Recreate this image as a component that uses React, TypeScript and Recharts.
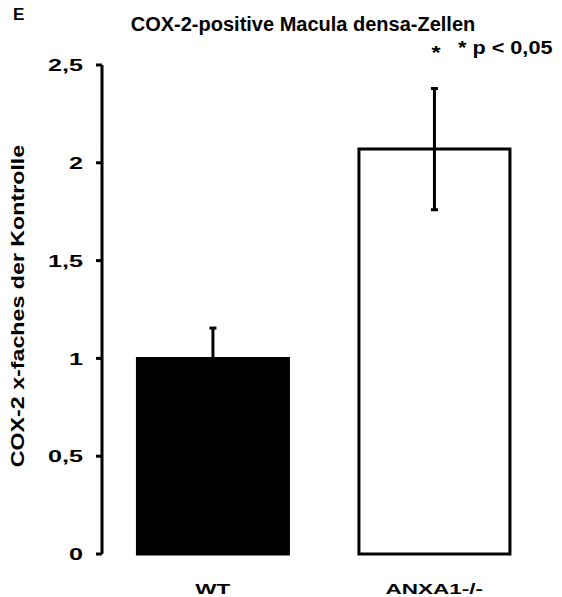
import React from 'react';
import { BarChart, Bar, XAxis, YAxis, ErrorBar, Cell } from 'recharts';

const categories = ['WT', 'ANXA1-/-'];
const values = [1.0, 2.07];
const errors = [0.155, 0.31];
const fills = ['#000000', '#ffffff'];
const yTicks = [0, 0.5, 1, 1.5, 2, 2.5];
const boundaryTicks = [0, 1, 2];
const title = 'COX-2-positive Macula densa-Zellen';
const yLabel = 'COX-2 x-faches der Kontrolle';
const panelLetter = 'E';
const sigMark = '*';
const sigLegend = '* p < 0,05';

const data = categories.map((c, i) => ({ name: c, value: values[i], err: errors[i], pos: i + 0.5 }));

const FONT = '"Liberation Sans", Arial, Helvetica, sans-serif';

const YTick = (props: any) => {
  const { x, y, payload } = props;
  return (
    <text
      transform={`translate(${x - 13},${y}) scale(1.48,1)`}
      textAnchor="end"
      dy="0.36em"
      fontSize={17}
      fontWeight="bold"
      fontFamily={FONT}
      fill="#000"
    >
      {String(payload.value).replace('.', ',')}
    </text>
  );
};

const XTick = (props: any) => {
  const { x, y, payload } = props;
  return (
    <text
      transform={`translate(${x},${y + 40}) scale(1.5,1)`}
      textAnchor="middle"
      fontSize={15}
      fontWeight="bold"
      fontFamily={FONT}
      fill="#000"
    >
      {payload.value}
    </text>
  );
};

export default function App() {
  return (
    <div style={{ position: 'absolute', left: 0, top: 0, width: 562, height: 597, background: '#fff' }}>
      <BarChart
        width={562}
        height={597}
        data={data}
        margin={{ top: 65, right: 17, bottom: 0, left: 0 }}
        barCategoryGap="16%"
      >
        <XAxis
          xAxisId="line"
          type="number"
          dataKey="pos"
          domain={[0, 2]}
          ticks={boundaryTicks}
          height={0}
          axisLine={{ stroke: '#000', strokeWidth: 3 }}
          tickLine={{ stroke: '#000', strokeWidth: 3 }}
          tickSize={7}
          tickFormatter={() => ''}
        />
        <XAxis
          xAxisId="cat"
          dataKey="name"
          height={43}
          axisLine={false}
          tickLine={false}
          tickSize={0}
          tickMargin={0}
          tick={<XTick />}
          interval={0}
        />
        <YAxis
          width={102}
          domain={[0, 2.5]}
          ticks={yTicks}
          interval={0}
          axisLine={{ stroke: '#000', strokeWidth: 3 }}
          tickLine={{ stroke: '#000', strokeWidth: 3 }}
          tickSize={6}
          tickMargin={0}
          tick={<YTick />}
        />
        <Bar xAxisId="cat" dataKey="value" isAnimationActive={false} stroke="#000" strokeWidth={3}>
          {data.map((d, i) => (
            <Cell key={d.name} fill={fills[i]} />
          ))}
          <ErrorBar dataKey="err" width={3.5} stroke="#000" strokeWidth={3} isAnimationActive={false} />
        </Bar>
      </BarChart>
      <svg
        width={562}
        height={597}
        style={{ position: 'absolute', left: 0, top: 0, pointerEvents: 'none' }}
      >
        <text x={13} y={20} fontSize={17} fontWeight="bold" fontFamily={FONT} fill="#000">
          {panelLetter}
        </text>
        <text x={303} y={31} textAnchor="middle" fontSize={20} fontWeight="bold" fontFamily={FONT} fill="#000">
          {title}
        </text>
        <text transform="translate(436,59) scale(1.3,1)" textAnchor="middle" fontSize={18} fontWeight="bold" fontFamily={FONT} fill="#000">
          {sigMark}
        </text>
        <text transform="translate(458,54) scale(1.14,1)" textAnchor="start" fontSize={19} fontWeight="bold" fontFamily={FONT} fill="#000">
          {sigLegend}
        </text>
        <text
          transform="translate(24,306) rotate(-90) scale(1.29,1)"
          textAnchor="middle"
          fontSize={18}
          fontWeight="bold"
          fontFamily={FONT}
          fill="#000"
        >
          {yLabel}
        </text>
      </svg>
    </div>
  );
}
